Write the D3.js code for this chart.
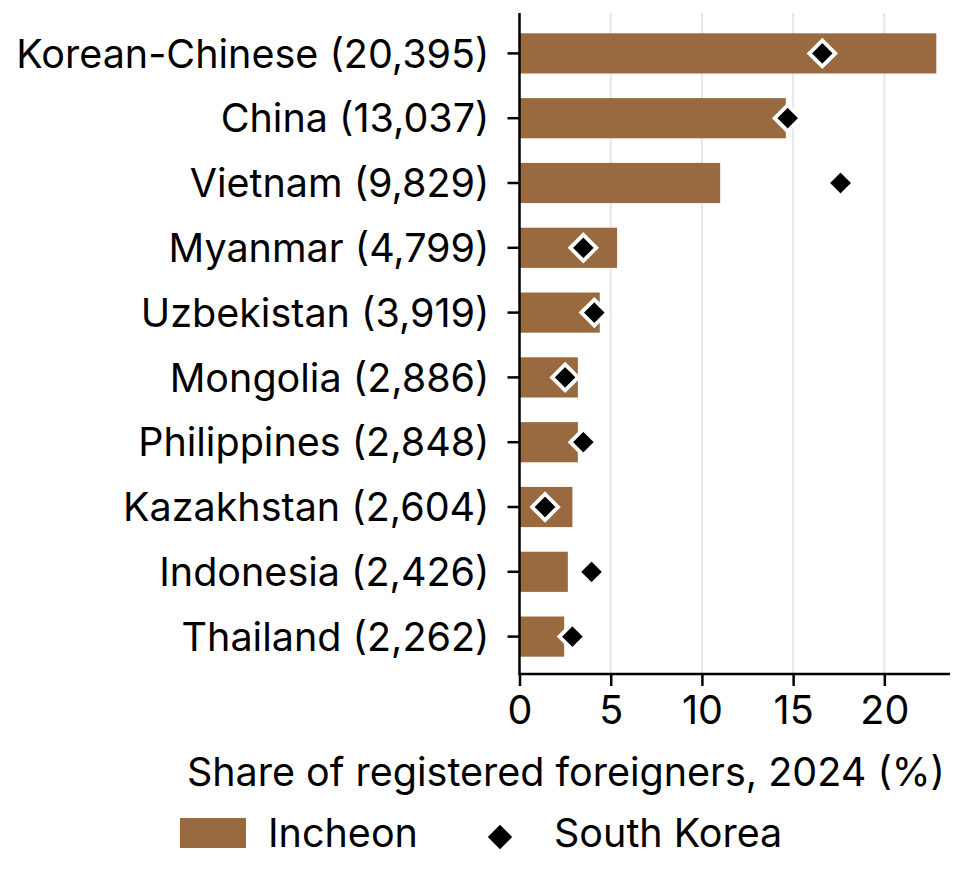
<!DOCTYPE html>
<html>
<head>
<meta charset="utf-8">
<script src="https://cdn.jsdelivr.net/npm/d3@7"></script>
<style>
  body { margin: 0; background: #fff; }
  svg text { font-family: Inter, "Noto Sans", sans-serif; fill: #000; }
</style>
</head>
<body>
<svg id="chart" width="962" height="872"></svg>
<script>
// data
let categories = ['Korean-Chinese (20,395)', 'China (13,037)', 'Vietnam (9,829)', 'Myanmar (4,799)',
    'Uzbekistan (3,919)', 'Mongolia (2,886)', 'Philippines (2,848)', 'Kazakhstan (2,604)',
    'Indonesia (2,426)', 'Thailand (2,262)'];
let incheon = [22.85, 14.6, 11.0, 5.35, 4.4, 3.2, 3.2, 2.9, 2.65, 2.45];
let southKorea = [16.6, 14.7, 17.6, 3.5, 4.1, 2.5, 3.5, 1.4, 3.95, 2.9];
let xTicks = [0, 5, 10, 15, 20];

// diamond path with half-diagonal r
function diamondPath(r){
    return 'M0,' + (-r) + 'L' + r + ',0L0,' + r + 'L' + (-r) + ',0Z';
}

function drawChart(){
    let svg = d3.select('#chart');

    // plot area
    let margL = 519.5;
    let margR = 950;
    let margT = 13;
    let margB = 674;
    let fontSize = 39.5;

    let xScale = d3.scaleLinear()
                    .domain([0, 23.6])
                    .range([margL, margR]);
    let yScale = d3.scaleBand()
                    .domain(categories)
                    .range([21, 669])
                    .paddingInner(0.38)
                    .paddingOuter(0.19);

    // light vertical gridlines
    svg.append('g')
        .selectAll('line')
        .data(xTicks.slice(1))
        .enter()
        .append('line')
        .attr('x1', d => xScale(d))
        .attr('x2', d => xScale(d))
        .attr('y1', margT)
        .attr('y2', margB)
        .attr('stroke', '#e6e6e6')
        .attr('stroke-width', 2);

    // Incheon bars
    svg.append('g')
        .selectAll('rect')
        .data(incheon)
        .enter()
        .append('rect')
        .attr('x', xScale(0))
        .attr('y', (d, i) => yScale(categories[i]))
        .attr('width', d => xScale(d) - xScale(0))
        .attr('height', yScale.bandwidth())
        .attr('fill', '#996a3f');

    // South Korea diamonds, white edge shows over the bars
    svg.append('g')
        .selectAll('path')
        .data(southKorea)
        .enter()
        .append('path')
        .attr('d', diamondPath(13))
        .attr('transform', (d, i) => 'translate(' + xScale(d) + ',' + (yScale(categories[i]) + yScale.bandwidth() / 2) + ')')
        .attr('fill', '#000')
        .attr('stroke', '#fff')
        .attr('stroke-width', 3.8);

    // y axis
    let yAxis = svg.append('g')
        .attr('transform', 'translate(' + margL + ',0)')
        .call(d3.axisLeft(yScale).tickSize(12).tickPadding(18));
    yAxis.select('.domain').attr('d', 'M0,' + margT + 'V' + (margB + 1)).attr('stroke-width', 2.5);
    yAxis.selectAll('.tick line').attr('stroke-width', 2.5);
    yAxis.selectAll('.tick text')
        .attr('font-size', fontSize)
        .attr('dy', '0.36em')
        .style('font-family', 'Inter, sans-serif');

    // x axis
    let xAxis = svg.append('g')
        .attr('transform', 'translate(0,' + margB + ')')
        .call(d3.axisBottom(xScale).tickValues(xTicks).tickSize(12).tickPadding(10));
    xAxis.select('.domain').attr('d', 'M' + (margL - 1) + ',0H' + margR).attr('stroke-width', 2.5);
    xAxis.selectAll('.tick line').attr('stroke-width', 2.5);
    xAxis.selectAll('.tick text')
        .attr('font-size', fontSize)
        .style('font-family', 'Inter, sans-serif');

    // axis title
    svg.append('text')
        .attr('x', 945)
        .attr('y', 786)
        .attr('text-anchor', 'end')
        .attr('font-size', fontSize)
        .text('Share of registered foreigners, 2024 (%)');

    // legend
    let legend = svg.append('g');
    legend.append('rect')
        .attr('x', 180)
        .attr('y', 818)
        .attr('width', 66)
        .attr('height', 30)
        .attr('fill', '#996a3f');
    legend.append('text')
        .attr('x', 268)
        .attr('y', 847)
        .attr('font-size', fontSize)
        .text('Incheon');
    legend.append('path')
        .attr('d', diamondPath(12.2))
        .attr('transform', 'translate(500,837)')
        .attr('fill', '#000');
    legend.append('text')
        .attr('x', 554)
        .attr('y', 847)
        .attr('font-size', fontSize)
        .text('South Korea');
}

drawChart();
</script>
</body>
</html>
